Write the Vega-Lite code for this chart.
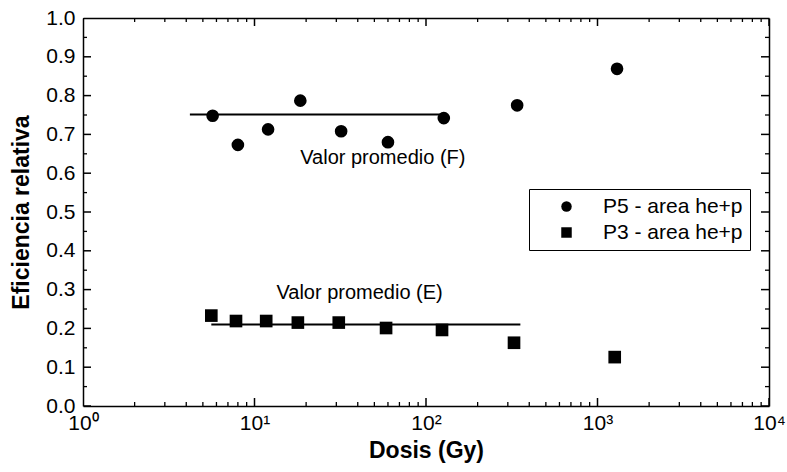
{
  "$schema": "https://vega.github.io/schema/vega-lite/v6.json",
  "width": 686,
  "height": 388,
  "autosize": {"type": "none"},
  "padding": {"left": 83, "top": 18, "right": 18, "bottom": 66},
  "background": "white",
  "config": {
    "font": "Liberation Sans",
    "view": {"stroke": null},
    "axis": {"gridOpacity": 0, "domainColor": "black", "labelColor": "black", "titleColor": "black", "domainWidth": 1.5}
  },
  "datasets": {
    "pts": [
      {"dosis": 5.7, "ef": 0.748, "serie": "P5 - area he+p"},
      {"dosis": 8.0, "ef": 0.673, "serie": "P5 - area he+p"},
      {"dosis": 12, "ef": 0.713, "serie": "P5 - area he+p"},
      {"dosis": 18.5, "ef": 0.787, "serie": "P5 - area he+p"},
      {"dosis": 32, "ef": 0.708, "serie": "P5 - area he+p"},
      {"dosis": 60, "ef": 0.68, "serie": "P5 - area he+p"},
      {"dosis": 127, "ef": 0.742, "serie": "P5 - area he+p"},
      {"dosis": 340, "ef": 0.775, "serie": "P5 - area he+p"},
      {"dosis": 1300, "ef": 0.869, "serie": "P5 - area he+p"},
      {"dosis": 5.6, "ef": 0.233, "serie": "P3 - area he+p"},
      {"dosis": 7.8, "ef": 0.219, "serie": "P3 - area he+p"},
      {"dosis": 11.7, "ef": 0.219, "serie": "P3 - area he+p"},
      {"dosis": 17.9, "ef": 0.215, "serie": "P3 - area he+p"},
      {"dosis": 31, "ef": 0.215, "serie": "P3 - area he+p"},
      {"dosis": 58.5, "ef": 0.201, "serie": "P3 - area he+p"},
      {"dosis": 124, "ef": 0.196, "serie": "P3 - area he+p"},
      {"dosis": 326, "ef": 0.163, "serie": "P3 - area he+p"},
      {"dosis": 1260, "ef": 0.126, "serie": "P3 - area he+p"}
    ],
    "prom": [
      {"x1": 4.2, "x2": 125, "y": 0.751},
      {"x1": 5.6, "x2": 355, "y": 0.21}
    ],
    "labels": [
      {"x": 56, "y": 0.64, "t": "Valor promedio (F)"},
      {"x": 41, "y": 0.292, "t": "Valor promedio (E)"}
    ],
    "xmaj": [{"v": 1}, {"v": 10}, {"v": 100}, {"v": 1000}, {"v": 10000}],
    "xmin": [{"v": 2},{"v": 3},{"v": 4},{"v": 5},{"v": 6},{"v": 7},{"v": 8},{"v": 9},{"v": 20},{"v": 30},{"v": 40},{"v": 50},{"v": 60},{"v": 70},{"v": 80},{"v": 90},{"v": 200},{"v": 300},{"v": 400},{"v": 500},{"v": 600},{"v": 700},{"v": 800},{"v": 900},{"v": 2000},{"v": 3000},{"v": 4000},{"v": 5000},{"v": 6000},{"v": 7000},{"v": 8000},{"v": 9000}],
    "ymaj": [{"v": 0},{"v": 0.1},{"v": 0.2},{"v": 0.3},{"v": 0.4},{"v": 0.5},{"v": 0.6},{"v": 0.7},{"v": 0.8},{"v": 0.9},{"v": 1.0}],
    "ymin": [{"v": 0.05},{"v": 0.15},{"v": 0.25},{"v": 0.35},{"v": 0.45},{"v": 0.55},{"v": 0.65},{"v": 0.75},{"v": 0.85},{"v": 0.95}]
  },
  "resolve": {"axis": {"x": "independent", "y": "independent"}},
  "layer": [
    {
      "data": {"name": "prom"},
      "mark": {"type": "rule", "color": "black", "strokeWidth": 2},
      "encoding": {
        "x": {"field": "x1", "type": "quantitative", "scale": {"type": "log", "domain": [1, 10000]}, "axis": null},
        "x2": {"field": "x2"},
        "y": {"field": "y", "type": "quantitative", "scale": {"domain": [0, 1]}, "axis": null}
      }
    },
    {
      "data": {"name": "labels"},
      "mark": {"type": "text", "fontSize": 20, "color": "black", "align": "center", "baseline": "middle"},
      "encoding": {
        "x": {"field": "x", "type": "quantitative", "scale": {"type": "log", "domain": [1, 10000]}, "axis": null},
        "y": {"field": "y", "type": "quantitative", "scale": {"domain": [0, 1]}, "axis": null},
        "text": {"field": "t"}
      }
    },
    {
      "data": {"name": "xmaj"},
      "mark": {"type": "tick", "orient": "vertical", "color": "black", "size": 16, "thickness": 1.5, "clip": true, "opacity": 1},
      "encoding": {
        "x": {"field": "v", "type": "quantitative", "scale": {"type": "log", "domain": [1, 10000]}, "axis": null},
        "y": {"datum": 0, "type": "quantitative", "scale": {"domain": [0, 1]}, "axis": null}
      }
    },
    {
      "data": {"name": "xmaj"},
      "mark": {"type": "tick", "orient": "vertical", "color": "black", "size": 16, "thickness": 1.5, "clip": true, "opacity": 1},
      "encoding": {
        "x": {"field": "v", "type": "quantitative", "scale": {"type": "log", "domain": [1, 10000]}, "axis": null},
        "y": {"datum": 1, "type": "quantitative", "scale": {"domain": [0, 1]}, "axis": null}
      }
    },
    {
      "data": {"name": "xmin"},
      "mark": {"type": "tick", "orient": "vertical", "color": "black", "size": 8, "thickness": 1.3, "clip": true, "opacity": 1},
      "encoding": {
        "x": {"field": "v", "type": "quantitative", "scale": {"type": "log", "domain": [1, 10000]}, "axis": null},
        "y": {"datum": 0, "type": "quantitative", "scale": {"domain": [0, 1]}, "axis": null}
      }
    },
    {
      "data": {"name": "xmin"},
      "mark": {"type": "tick", "orient": "vertical", "color": "black", "size": 8, "thickness": 1.3, "clip": true, "opacity": 1},
      "encoding": {
        "x": {"field": "v", "type": "quantitative", "scale": {"type": "log", "domain": [1, 10000]}, "axis": null},
        "y": {"datum": 1, "type": "quantitative", "scale": {"domain": [0, 1]}, "axis": null}
      }
    },
    {
      "data": {"name": "ymaj"},
      "mark": {"type": "tick", "orient": "horizontal", "color": "black", "size": 16, "thickness": 1.5, "clip": true, "opacity": 1},
      "encoding": {
        "y": {"field": "v", "type": "quantitative", "scale": {"domain": [0, 1]}, "axis": null},
        "x": {"datum": 1, "type": "quantitative", "scale": {"type": "log", "domain": [1, 10000]}, "axis": null}
      }
    },
    {
      "data": {"name": "ymaj"},
      "mark": {"type": "tick", "orient": "horizontal", "color": "black", "size": 16, "thickness": 1.5, "clip": true, "opacity": 1},
      "encoding": {
        "y": {"field": "v", "type": "quantitative", "scale": {"domain": [0, 1]}, "axis": null},
        "x": {"datum": 10000, "type": "quantitative", "scale": {"type": "log", "domain": [1, 10000]}, "axis": null}
      }
    },
    {
      "data": {"name": "ymin"},
      "mark": {"type": "tick", "orient": "horizontal", "color": "black", "size": 8, "thickness": 1.3, "clip": true, "opacity": 1},
      "encoding": {
        "y": {"field": "v", "type": "quantitative", "scale": {"domain": [0, 1]}, "axis": null},
        "x": {"datum": 1, "type": "quantitative", "scale": {"type": "log", "domain": [1, 10000]}, "axis": null}
      }
    },
    {
      "data": {"name": "ymin"},
      "mark": {"type": "tick", "orient": "horizontal", "color": "black", "size": 8, "thickness": 1.3, "clip": true, "opacity": 1},
      "encoding": {
        "y": {"field": "v", "type": "quantitative", "scale": {"domain": [0, 1]}, "axis": null},
        "x": {"datum": 10000, "type": "quantitative", "scale": {"type": "log", "domain": [1, 10000]}, "axis": null}
      }
    },
    {
      "data": {"name": "pts"},
      "mark": {"type": "point", "filled": true, "color": "black", "opacity": 1},
      "encoding": {
        "x": {
          "field": "dosis", "type": "quantitative",
          "scale": {"type": "log", "domain": [1, 10000]},
          "axis": {
            "title": "Dosis (Gy)", "titleFontSize": 23, "titleFontWeight": "bold", "titlePadding": 6,
            "values": [1, 10, 100, 1000, 10000],
            "labelExpr": "datum.value == 1 ? '10⁰' : datum.value == 10 ? '10¹' : datum.value == 100 ? '10²' : datum.value == 1000 ? '10³' : '10⁴'",
            "labelFontSize": 21, "labelPadding": 6, "labelFlush": false, "labelOverlap": false,
            "ticks": false
          }
        },
        "y": {
          "field": "ef", "type": "quantitative",
          "scale": {"domain": [0, 1]},
          "axis": {
            "title": "Eficiencia relativa", "titleFontSize": 23, "titleFontWeight": "bold", "titlePadding": 12,
            "values": [0,0.1,0.2,0.3,0.4,0.5,0.6,0.7,0.8,0.9,1.0],
            "format": ".1f",
            "labelFontSize": 21, "labelPadding": 8, "labelOverlap": false, "labelFlush": false,
            "ticks": false
          }
        },
        "shape": {
          "field": "serie", "type": "nominal",
          "scale": {"domain": ["P5 - area he+p", "P3 - area he+p"], "range": ["circle", "square"]},
          "legend": {
            "title": null, "orient": "none", "legendX": 446, "legendY": 171,
            "strokeColor": "black", "fillColor": "white", "padding": 7,
            "labelFontSize": 21, "labelColor": "black", "symbolSize": 110, "symbolFillColor": "black", "symbolStrokeColor": "black",
            "symbolOffset": 20, "labelOffset": 26, "rowPadding": 4
          }
        },
        "size": {"value": 160}
      }
    },
    {
      "data": {"name": "pts"},
      "mark": {"type": "point", "opacity": 0},
      "encoding": {
        "x": {
          "field": "dosis", "type": "quantitative",
          "scale": {"type": "log", "domain": [1, 10000]},
          "axis": {"orient": "top", "title": null, "labels": false, "ticks": false, "values": [1, 10000]}
        },
        "y": {
          "field": "ef", "type": "quantitative",
          "scale": {"domain": [0, 1]},
          "axis": {"orient": "right", "title": null, "labels": false, "ticks": false, "values": [0, 1]}
        }
      }
    }
  ]
}
